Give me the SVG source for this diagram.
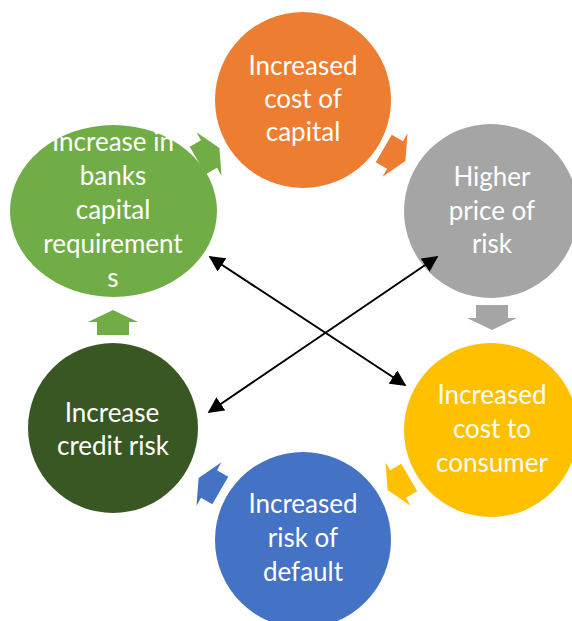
<svg xmlns="http://www.w3.org/2000/svg" width="572" height="621" viewBox="0 0 572 621">
  <defs>
    <style>
      .lbl { font-family: Lato, "Open Sans", "Liberation Sans", sans-serif; font-size: 26px; fill: #ffffff; text-anchor: middle; }
      .conn { stroke: #000000; stroke-width: 2; fill: none; marker-start: url(#ah); marker-end: url(#ah); }
    </style>
    <path id="cyc" d="M -13,-16 L 0,-16 L 0,-25 L 12,0 L 0,25 L 0,16 L -13,16 Z"/>
    <marker id="ah" viewBox="0 0 10 10" refX="9" refY="5" markerWidth="8" markerHeight="8" orient="auto-start-reverse" markerUnits="strokeWidth">
      <path d="M0,0 L10,5 L0,10 Z" fill="#000000"/>
    </marker>
  </defs>
  <rect width="572" height="621" fill="#ffffff"/>

  <g id="cycle-arrows">
    <use href="#cyc" fill="#70AD47" transform="translate(209,154) rotate(330)"/>
    <use href="#cyc" fill="#ED7D31" transform="translate(395,155) rotate(30)"/>
    <use href="#cyc" fill="#A5A5A5" transform="translate(492,318) rotate(90)"/>
    <use href="#cyc" fill="#FFC000" transform="translate(398,484) rotate(150)"/>
    <use href="#cyc" fill="#4472C4" transform="translate(209,484) rotate(210)"/>
    <use href="#cyc" fill="#70AD47" transform="translate(113,322) rotate(270)"/>
  </g>

  <g id="node-orange">
    <circle cx="303" cy="100" r="88" fill="#ED7D31"/>
    <text class="lbl" x="303" y="75">Increased</text>
    <text class="lbl" x="303" y="108">cost of</text>
    <text class="lbl" x="303" y="141">capital</text>
  </g>
  <g id="node-gray">
    <circle cx="491" cy="211" r="87" fill="#A5A5A5"/>
    <text class="lbl" x="492" y="186">Higher</text>
    <text class="lbl" x="492" y="220">price of</text>
    <text class="lbl" x="492" y="253">risk</text>
  </g>
  <g id="node-yellow">
    <circle cx="491" cy="430" r="87" fill="#FFC000"/>
    <text class="lbl" x="492" y="404">Increased</text>
    <text class="lbl" x="492" y="438">cost to</text>
    <text class="lbl" x="492" y="472">consumer</text>
  </g>
  <g id="node-blue">
    <circle cx="303" cy="540" r="88" fill="#4472C4"/>
    <text class="lbl" x="303" y="513">Increased</text>
    <text class="lbl" x="303" y="547">risk of</text>
    <text class="lbl" x="303" y="581">default</text>
  </g>
  <g id="node-darkgreen">
    <circle cx="113" cy="428" r="85" fill="#385723"/>
    <text class="lbl" x="112" y="422">Increase</text>
    <text class="lbl" x="113" y="455">credit risk</text>
  </g>
  <g id="node-green">
    <ellipse cx="113.5" cy="211" rx="103.5" ry="86" fill="#70AD47"/>
    <text class="lbl" x="113" y="151">Increase in</text>
    <text class="lbl" x="113" y="185">banks</text>
    <text class="lbl" x="113" y="219">capital</text>
    <text class="lbl" x="113" y="253">requirement</text>
    <text class="lbl" x="113" y="287">s</text>
  </g>

  <g id="connectors">
    <line class="conn" x1="210" y1="257" x2="405" y2="385"/>
    <line class="conn" x1="437" y1="257" x2="209" y2="412"/>
  </g>
</svg>
